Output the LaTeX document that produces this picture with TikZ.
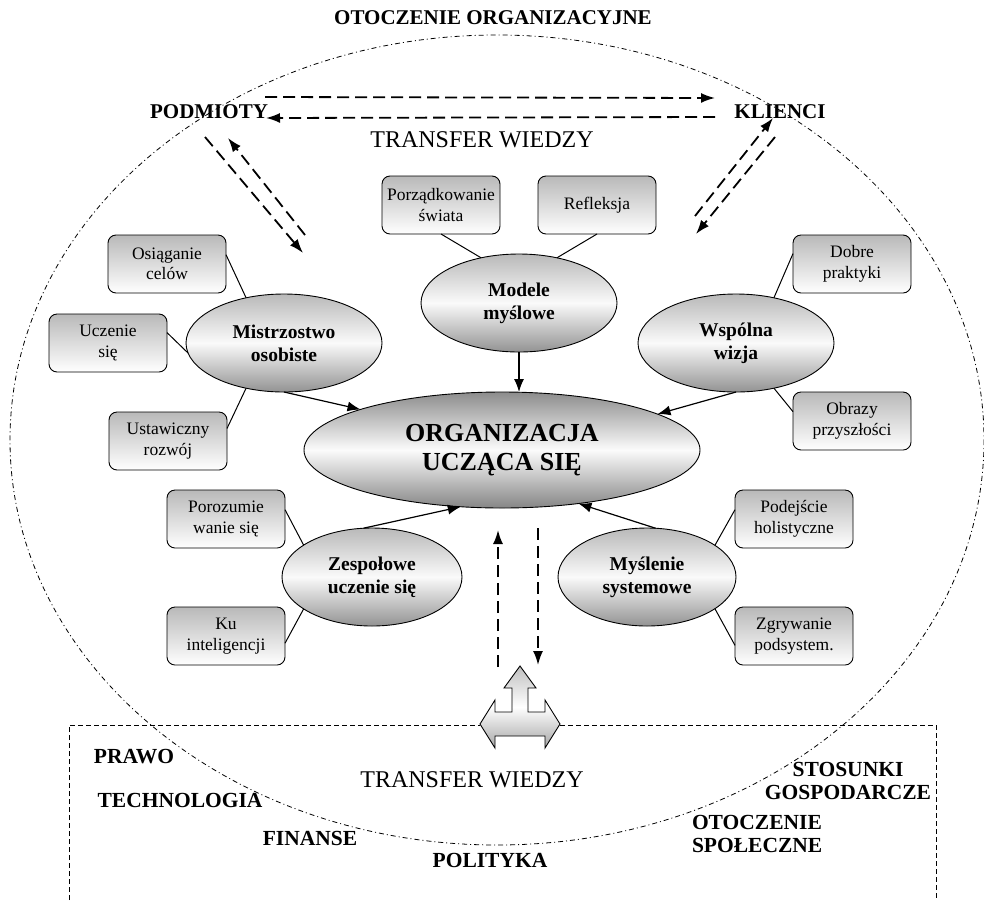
\documentclass[tikz,border=0pt]{standalone}
\usepackage{fontspec}
\setmainfont{Liberation Serif}
\usetikzlibrary{shapes.geometric,arrows.meta}
\begin{document}
\begin{tikzpicture}[x=1pt,y=-1pt,
  every node/.style={inner sep=0pt, outer sep=0pt},
  disc/.style={ellipse, draw, line width=0.9pt, minimum width=196pt, minimum height=98pt,
    top color=gray!55, bottom color=gray!85, middle color=gray!4, align=center,
    font=\fontsize{19.5}{23}\selectfont\bfseries},
  maindisc/.style={ellipse, draw, line width=0.9pt, minimum width=396pt, minimum height=116pt,
    top color=gray!90, bottom color=gray!95, middle color=gray!3, align=center,
    font=\fontsize{26}{29}\selectfont\bfseries},
  itembox/.style={rectangle, rounded corners=8pt, draw, line width=0.9pt, minimum width=118pt,
    minimum height=58pt, top color=gray!55, bottom color=white, align=center,
    font=\fontsize{17.5}{20.5}\selectfont},
  biglabel/.style={font=\fontsize{21}{23}\selectfont\bfseries, align=center},
  envlabel/.style={font=\fontsize{21.5}{23}\selectfont\bfseries},
  plainlabel/.style={font=\fontsize{24}{26}\selectfont},
  solidarrow/.style={line width=1.2pt, -{Latex[length=13pt,width=10pt]}},
  link/.style={line width=1pt},
  dasharrow/.style={line width=1.8pt, dash pattern=on 12pt off 6pt, -{Latex[length=14pt,width=10pt]}},
  dashdotline/.style={line width=0.8pt, dash pattern=on 5pt off 3pt on 1pt off 3pt},
  frameline/.style={line width=0.8pt, dash pattern=on 5pt off 3pt}
]
\useasboundingbox (0,0) rectangle (984,900);

% environment ellipse and frame
\draw[dashdotline] (497,440) ellipse [x radius=487, y radius=405];
\draw[frameline] (69,900) -- (69,725) -- (480,725);
\draw[frameline] (560,725) -- (936,725) -- (936,900);

% labels
\node[biglabel] (otoc) at (493,18) {OTOCZENIE ORGANIZACYJNE};
\node[biglabel] (pod) at (209,112) {PODMIOTY};
\node[biglabel] (kli) at (780,112) {KLIENCI};
\node[plainlabel] (tw1) at (482,140) {TRANSFER WIEDZY};
\node[plainlabel] (tw2) at (472,780) {TRANSFER WIEDZY};
\node[envlabel] (prawo) at (134,757) {PRAWO};
\node[envlabel] (tech) at (180,800) {TECHNOLOGIA};
\node[envlabel] (fin) at (310,838) {FINANSE};
\node[envlabel] (pol) at (490,860) {POLITYKA};
\node[envlabel, align=center] (stos) at (848,781) {STOSUNKI\\GOSPODARCZE};
\node[envlabel, align=left, anchor=west] (spol) at (692,834) {OTOCZENIE\\SPOŁECZNE};

% central ellipse and discipline ellipses
\node[maindisc] (main) at (502,450) {ORGANIZACJA\\UCZĄCA SIĘ};
\node[disc] (mist) at (284,343) {Mistrzostwo\\osobiste};
\node[disc] (mod) at (519,303) {Modele\\myślowe};
\node[disc] (wiz) at (736,343) {Wspólna\\wizja};
\node[disc, minimum width=180pt] (zes) at (372,577) {Zespołowe\\uczenie się};
\node[disc, minimum width=178pt] (mys) at (647,577) {Myślenie\\systemowe};

% boxes
\node[itembox] (osi) at (167,264) {Osiąganie\\celów};
\node[itembox] (ucz) at (108,343) {Uczenie\\się};
\node[itembox] (ust) at (168,441) {Ustawiczny\\rozwój};
\node[itembox] (por) at (441,205) {Porządkowanie\\świata};
\node[itembox] (ref) at (597,205) {Refleksja};
\node[itembox] (dob) at (852,264) {Dobre\\praktyki};
\node[itembox] (obr) at (852,421) {Obrazy\\przyszłości};
\node[itembox] (poz) at (226,519) {Porozumie\\wanie się};
\node[itembox] (ku) at (226,636) {Ku\\inteligencji};
\node[itembox] (pdj) at (794,519) {Podejście\\holistyczne};
\node[itembox] (zgr) at (794,636) {Zgrywanie\\podsystem.};

% links box - ellipse
\draw[link] (osi.9) -- (mist.130);
\draw[link] (ucz.10) -- (mist.186);
\draw[link] (ust.12) -- (mist.230);
\draw[link] (por.south) -- (mod.130);
\draw[link] (ref.south) -- (mod.50);
\draw[link] (dob.170) -- (wiz.50);
\draw[link] (obr.171) -- (wiz.310);
\draw[link] (poz.9) -- (zes.155);
\draw[link] (ku.353) -- (zes.205);
\draw[link] (pdj.171) -- (mys.25);
\draw[link] (zgr.189) -- (mys.335);

% arrows into main
\draw[solidarrow] (mist.south) -- (main.164);
\draw[solidarrow] (mod.south) -- (mod.south |- main.north);
\draw[solidarrow] (wiz.south) -- (main.13);
\draw[solidarrow] (zes.100) -- (main.234);
\draw[solidarrow] (mys.80) -- (main.325);

% knowledge transfer dashed arrows
\coordinate (tA1) at (265,97);  \coordinate (tA2) at (715,98);
\coordinate (tB1) at (715,117); \coordinate (tB2) at (266,118);
\coordinate (lA1) at (205,137); \coordinate (lA2) at (303,253);
\coordinate (lB1) at (305,235); \coordinate (lB2) at (228,138);
\coordinate (rC1) at (695,216); \coordinate (rC2) at (773,118);
\coordinate (rD1) at (775,137); \coordinate (rD2) at (696,234);
\coordinate (vU1) at (498,667); \coordinate (vU2) at (498,530);
\coordinate (vD1) at (538,528); \coordinate (vD2) at (538,665);
\draw[dasharrow] (tA1) -- (tA2);
\draw[dasharrow] (tB1) -- (tB2);
\draw[dasharrow] (lA1) -- (lA2);
\draw[dasharrow] (lB1) -- (lB2);
\draw[dasharrow] (rC1) -- (rC2);
\draw[dasharrow] (rD1) -- (rD2);
\draw[dasharrow] (vU1) -- (vU2);
\draw[dasharrow] (vD1) -- (vD2);

% three-way arrow
\draw[line width=0.9pt, top color=gray!50, bottom color=gray!70, middle color=white]
  (520,666) -- (536,688) -- (528,688) -- (528,712) -- (545,712) -- (545,700)
  -- (560,724) -- (545,748) -- (545,736) -- (495,736) -- (495,748) -- (480,724)
  -- (495,700) -- (495,712) -- (512,712) -- (512,688) -- (504,688) -- cycle;
\end{tikzpicture}
\end{document}
